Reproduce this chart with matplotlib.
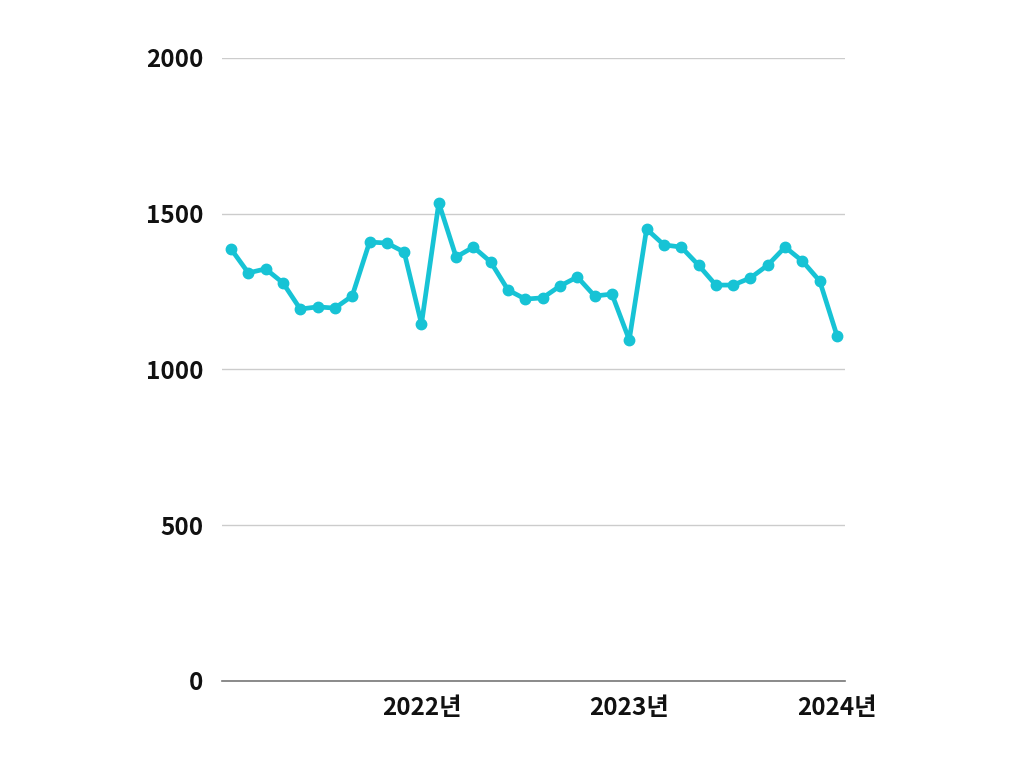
import matplotlib
matplotlib.use("Agg")
import matplotlib.pyplot as plt

plt.rcParams['font.family'] = ['Noto Sans CJK KR', 'DejaVu Sans']

values = [1387, 1310, 1323, 1278, 1194, 1201, 1197, 1236, 1409, 1406, 1377, 1146,
          1535, 1361, 1393, 1345, 1255, 1226, 1230, 1268, 1297, 1236, 1242, 1095,
          1451, 1400, 1393, 1335, 1271, 1271, 1294, 1335, 1393, 1348, 1284, 1108]
tick_positions = [11, 23, 35]
tick_labels = ["2022년", "2023년", "2024년"]
y_ticks = [0, 500, 1000, 1500, 2000]

fig = plt.figure(figsize=(10.24, 7.68), dpi=100)
ax = fig.add_axes([0.2168, 0.1133, 0.6084, 0.8112])

x = list(range(len(values)))
ax.plot(x, values, color="#17c3d5", linewidth=3.4, marker="o", markersize=7.5,
        solid_joinstyle="round", zorder=3)

ax.set_ylim(0, 2000)
ax.set_xlim(-0.52, 35.46)
ax.set_yticks(y_ticks)
ax.set_yticklabels([str(v) for v in y_ticks])
ax.set_xticks(tick_positions)
ax.set_xticklabels(tick_labels)

for t in ax.get_xticklabels() + ax.get_yticklabels():
    t.set_fontweight("bold")
    t.set_fontsize(17.5)
    t.set_color("#111111")

ax.tick_params(axis="both", length=0)
ax.tick_params(axis="y", pad=13.5)
ax.tick_params(axis="x", pad=11)

ax.grid(axis="y", color="#cccccc", linewidth=1)
ax.set_axisbelow(True)
for s in ["top", "right", "left"]:
    ax.spines[s].set_visible(False)
ax.spines["bottom"].set_color("#777777")
ax.spines["bottom"].set_linewidth(1.2)

fig.savefig("out.png", dpi=100)
